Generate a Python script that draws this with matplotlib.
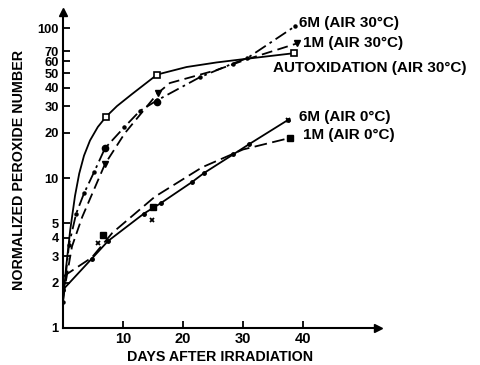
import matplotlib
matplotlib.use("Agg")
import matplotlib.pyplot as plt

plt.rcParams['font.family'] = ['Liberation Sans Narrow', 'Liberation Sans', 'DejaVu Sans']
plt.rcParams['font.weight'] = 'bold'

# autoxidation, air 30 C (solid curve, open squares)
auto_days = [0, 0.5, 1.2, 2.0, 2.7, 3.5, 4.5, 5.8, 7.2, 9.0, 11.5, 15.7, 20.6, 25.6, 30.0, 38.5]
auto_vals = [1.5, 2.5, 4.5, 7.6, 10.7, 14.1, 17.8, 21.9, 25.7, 30.2, 36.3, 49, 55, 59, 62, 68]
auto_pt_days = [7.2, 15.7, 38.5]
auto_pt_vals = [25.5, 49, 68]

# 6M, air 30 C
m6_30_days = [0, 1.0, 2.2, 3.5, 5.2, 7.0, 10.2, 12.8, 15.7, 22.8, 28.3, 30.7, 38.7]
m6_30_vals = [1.5, 3.6, 5.8, 7.9, 11.0, 15.8, 21.8, 28, 33, 47, 58, 63, 103]
m6_30_pt_days = [7.0, 15.7]
m6_30_pt_vals = [15.8, 32]

# 1M, air 30 C
m1_30_days = [0, 1.5, 3.2, 7.0, 10.3, 15.8, 17.8, 25.6, 30.7, 39.0]
m1_30_vals = [1.6, 3.5, 5.5, 12.4, 19.9, 36.8, 43, 52.5, 62, 79]
m1_30_pt_days = [7.0, 15.8, 39.0]
m1_30_pt_vals = [12.4, 36.8, 79]

# 6M, air 0 C
m6_0_days = [0, 4.8, 7.5, 13.5, 16.3, 21.5, 23.5, 28.4, 31.0, 37.5]
m6_0_vals = [1.8, 2.9, 3.8, 5.8, 6.8, 9.4, 10.8, 14.4, 16.8, 24.4]
m6_0_pt_days = [5.9, 14.8, 37.5]
m6_0_pt_vals = [3.7, 5.25, 24.4]

# 1M, air 0 C
m1_0_days = [0, 4.8, 8.2, 15.3, 23.2, 30.0, 37.8]
m1_0_vals = [2.2, 2.95, 4.3, 7.5, 11.8, 15.5, 18.5]
m1_0_pt_days = [6.7, 15.0, 37.8]
m1_0_pt_vals = [4.2, 6.4, 18.5]

y_ticks = [1, 2, 3, 4, 5, 10, 20, 30, 40, 50, 60, 70, 100]
x_ticks = [10, 20, 30, 40]

fig = plt.figure(figsize=(4.81, 3.65), dpi=100)
ax = fig.add_axes([63 / 481, 37 / 365, 315 / 481, 316 / 365])
ax.set_yscale('log')
ax.set_xlim(0, 52.5)
ax.set_ylim(1, 128)

lw = 1.3
ax.plot(auto_days, auto_vals, color='black', lw=lw)
ax.plot(auto_pt_days, auto_pt_vals, 's', mfc='white', mec='black', ms=4, mew=1.2)

ax.plot(m6_30_days, m6_30_vals, color='black', lw=lw, ls=(0, (7, 2.5, 1.5, 2.5)),
        marker='o', ms=2.2)
ax.plot(m6_30_pt_days, m6_30_pt_vals, 'o', color='black', ms=4.5)

ax.plot(m1_30_days, m1_30_vals, color='black', lw=lw, ls=(0, (6, 3)))
ax.plot(m1_30_pt_days, m1_30_pt_vals, 'v', color='black', ms=4.5)

ax.plot(m6_0_days, m6_0_vals, color='black', lw=lw, marker='o', ms=2.5)
ax.plot(m6_0_pt_days, m6_0_pt_vals, 'x', color='black', ms=3.5, mew=1.3)

ax.plot(m1_0_days, m1_0_vals, color='black', lw=lw, ls=(0, (7, 3)))
ax.plot(m1_0_pt_days, m1_0_pt_vals, 's', color='black', ms=4.5)

# series labels at the right ends
lab = dict(fontsize=11, fontweight='bold', va='center', ha='left', clip_on=False)
ax.text(39.4, 108, '6M (AIR 30°C)', **lab)
ax.text(40.0, 80, '1M (AIR 30°C)', **lab)
ax.text(35.0, 54, 'AUTOXIDATION (AIR 30°C)', **lab)
ax.text(39.4, 25.5, '6M (AIR 0°C)', **lab)
ax.text(40.0, 19.3, '1M (AIR 0°C)', **lab)

# axes: only left and bottom, with arrow heads
for side in ['top', 'right']:
    ax.spines[side].set_visible(False)
for side in ['left', 'bottom']:
    ax.spines[side].set_linewidth(1.5)
ax.plot(1, 0, '>', color='black', ms=6, transform=ax.transAxes, clip_on=False)
ax.plot(0, 1, '^', color='black', ms=6, transform=ax.transAxes, clip_on=False)

ax.set_yticks(y_ticks)
ax.set_yticklabels([str(v) for v in y_ticks])
ax.minorticks_off()
ax.set_xticks(x_ticks)
ax.set_xticklabels([str(v) for v in x_ticks])
ax.tick_params(direction='in', length=5, width=1.3, pad=3)
ax.tick_params(axis='x', labelsize=10.5)
ax.tick_params(axis='y', labelsize=9.3)

ax.set_ylabel('NORMALIZED PEROXIDE NUMBER', fontsize=10.3, fontweight='bold', labelpad=8)
ax.set_xlabel('DAYS AFTER IRRADIATION', fontsize=10.3, fontweight='bold', labelpad=3)

fig.savefig('out.png', dpi=100)
